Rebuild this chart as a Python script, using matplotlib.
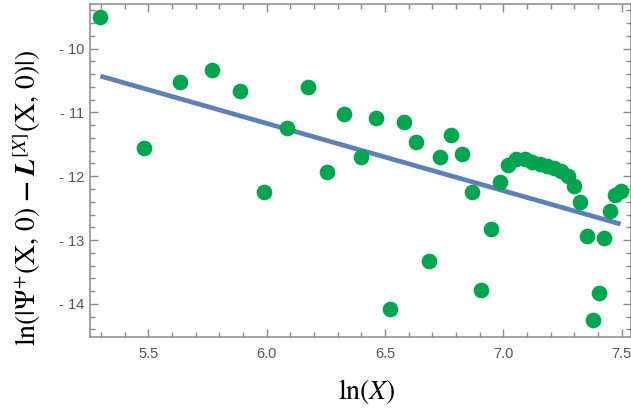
import numpy as np
import matplotlib
matplotlib.use("Agg")
import matplotlib.pyplot as plt
from matplotlib.ticker import MultipleLocator, FuncFormatter

plt.rcParams["mathtext.fontset"] = "stix"

# ln(X) sample positions and log-error values
ln_x = [5.298, 5.481, 5.635, 5.768, 5.886, 5.991, 6.087, 6.174, 6.254, 6.328,
        6.397, 6.461, 6.522, 6.579, 6.633, 6.685, 6.733, 6.780, 6.824, 6.867,
        6.908, 6.947, 6.985, 7.021, 7.056, 7.090, 7.123, 7.155, 7.185, 7.215,
        7.244, 7.272, 7.300, 7.326, 7.352, 7.378, 7.403, 7.427, 7.450, 7.473,
        7.496]
ln_err = [-9.51, -11.55, -10.52, -10.34, -10.67, -12.25, -11.25, -10.60, -11.93, -11.02,
          -11.70, -11.08, -14.08, -11.15, -11.47, -13.33, -11.70, -11.35, -11.65, -12.25,
          -13.78, -12.83, -12.09, -11.82, -11.73, -11.73, -11.77, -11.81, -11.84, -11.87,
          -11.92, -11.99, -12.15, -12.41, -12.93, -14.26, -13.83, -12.97, -12.54, -12.29,
          -12.23]

# linear fit: intercept and slope
fit_intercept = -4.838
fit_slope = -1.0555

x_ticks = [5.5, 6.0, 6.5, 7.0, 7.5]
y_ticks = [-10, -11, -12, -13, -14]

W, H = 631, 408
fig = plt.figure(figsize=(W / 100, H / 100), dpi=100)
ax = fig.add_axes([90 / W, 1 - 337 / H, 541 / W, 333 / H])

fx = np.array([min(ln_x), max(ln_x)])
ax.plot(fx, fit_intercept + fit_slope * fx, color="#5E81B5", lw=3.4,
        solid_capstyle="butt", zorder=2)
ax.plot(ln_x, ln_err, "o", color="#00A550", ms=11.3, mec="none", zorder=3)

ax.set_xlim(5.254, 7.540)
ax.set_ylim(-14.52, -9.30)

spine_col = "#8a8a8a"
for s in ax.spines.values():
    s.set_color(spine_col)
    s.set_linewidth(1.1)

ax.xaxis.set_major_locator(plt.FixedLocator(x_ticks))
ax.xaxis.set_minor_locator(MultipleLocator(0.1))
ax.yaxis.set_major_locator(plt.FixedLocator(y_ticks))
ax.yaxis.set_minor_locator(MultipleLocator(0.2))
ax.xaxis.set_major_formatter(FuncFormatter(lambda v, p: f"{v:.1f}"))
ax.yaxis.set_major_formatter(FuncFormatter(lambda v, p: f"- {abs(v):g}" if v < 0 else f"{v:g}"))

ax.tick_params(which="both", direction="in", top=True, right=True,
               color=spine_col, width=1.0, labelcolor="#555555",
               labelsize=10.5)
ax.tick_params(which="major", length=6)
ax.tick_params(which="minor", length=3.5)
ax.tick_params(axis="x", which="major", pad=7)
ax.tick_params(axis="y", which="major", pad=4)
for lab in ax.get_xticklabels() + ax.get_yticklabels():
    lab.set_family("Liberation Sans")

ax.set_xlabel(r"$\ln(X)$", fontsize=20)
ax.xaxis.label.set_va("center")
ax.xaxis.set_label_coords(0.511, -0.165)

ax.set_ylabel(r"$\ln(|\Psi^{+}(\mathrm{X},\,0)\;\boldsymbol{-}\;\boldsymbol{L}^{[X]}(\mathrm{X},\,0)|)$",
              fontsize=20)
ax.yaxis.label.set_va("center")
ax.yaxis.set_label_coords(-0.1165, 0.417)

fig.savefig("out.png", dpi=100)
